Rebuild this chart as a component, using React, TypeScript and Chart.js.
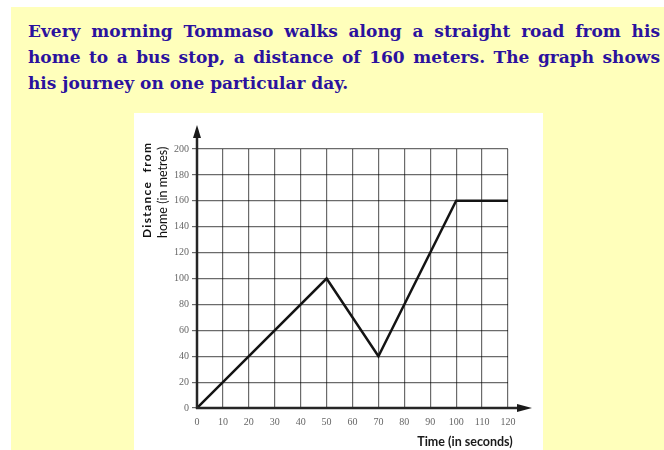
import React, { useEffect, useRef } from "react";
import { Chart, registerables } from "chart.js";

Chart.register(...registerables);

// ---- data ----
const timeSeconds = [0, 50, 70, 100, 120];
const distanceMetres = [0, 100, 40, 160, 160];
const xMin = 0;
const xMax = 120;
const xStep = 10;
const yMin = 0;
const yMax = 200;
const yStep = 20;
const questionLines = [
  "Every morning Tommaso walks along a straight road from his",
  "home to a bus stop, a distance of 160 meters. The graph shows",
  "his journey on one particular day.",
];
const yTitleLines = ["Distance  from", "home (in metres)"];
const xTitle = "Time (in seconds)";

const axesPlugin = {
  id: "axesArrowsTitles",
  afterDraw(chart: any) {
    const { ctx } = chart;
    const { left, right, top, bottom } = chart.chartArea;
    ctx.save();
    // axes
    ctx.strokeStyle = "#262626";
    ctx.fillStyle = "#1a1a1a";
    ctx.lineWidth = 2.5;
    ctx.beginPath();
    ctx.moveTo(left, bottom + 1);
    ctx.lineTo(left, top - 13);
    ctx.moveTo(left - 1, bottom);
    ctx.lineTo(right + 10, bottom);
    ctx.stroke();
    // y arrow
    ctx.beginPath();
    ctx.moveTo(left, top - 24);
    ctx.lineTo(left - 4, top - 11);
    ctx.lineTo(left + 4, top - 11);
    ctx.closePath();
    ctx.fill();
    // x arrow
    ctx.beginPath();
    ctx.moveTo(right + 24, bottom);
    ctx.lineTo(right + 9, bottom - 4);
    ctx.lineTo(right + 9, bottom + 4);
    ctx.closePath();
    ctx.fill();

    // y title (two lines, rotated)
    ctx.fillStyle = "#111";
    ctx.textBaseline = "middle";
    ctx.textAlign = "left";
    ctx.save();
    ctx.translate(13, 125);
    ctx.rotate(-Math.PI / 2);
    ctx.font = "bold 12px Lato";
    (ctx as any).letterSpacing = "1.3px";
    ctx.fillText(yTitleLines[0], 0, 0);
    ctx.restore();
    ctx.save();
    ctx.translate(29, 125);
    ctx.rotate(-Math.PI / 2);
    ctx.font = "12.5px Lato";
    (ctx as any).letterSpacing = "0px";
    ctx.fillText(yTitleLines[1], 0, 0);
    ctx.restore();

    // x title
    ctx.font = "bold 12.5px Lato";
    ctx.fillStyle = "#1a1a1a";
    ctx.textAlign = "center";
    ctx.fillText(xTitle, 331, 329);
    ctx.restore();
  },
};

export default function App() {
  const canvasRef = useRef<HTMLCanvasElement | null>(null);

  useEffect(() => {
    const canvas = canvasRef.current;
    if (!canvas) return;
    const gridColor = "rgba(0,0,0,0.58)";
    const tickFont = { family: "'Liberation Serif', serif", size: 10 };
    const chart = new Chart(canvas, {
      type: "line",
      data: {
        datasets: [
          {
            data: timeSeconds.map((t, i) => ({ x: t, y: distanceMetres[i] })),
            borderColor: "#141414",
            borderWidth: 2.5,
            pointRadius: 0,
            tension: 0,
            fill: false,
          },
        ],
      },
      options: {
        responsive: false,
        maintainAspectRatio: false,
        animation: false,
        layout: { padding: { left: 0, top: 36, right: 35, bottom: 0 } },
        plugins: {
          legend: { display: false },
          tooltip: { enabled: false },
        },
        scales: {
          x: {
            type: "linear",
            min: xMin,
            max: xMax,
            afterFit: (s: any) => {
              s.height = 42;
            },
            ticks: {
              stepSize: xStep,
              font: tickFont,
              color: "#666",
              padding: 8,
              maxRotation: 0,
              autoSkip: false,
            },
            grid: { color: gridColor, lineWidth: 1.2, drawTicks: false },
            border: { display: false },
          },
          y: {
            type: "linear",
            min: yMin,
            max: yMax,
            afterFit: (s: any) => {
              s.width = 63;
            },
            ticks: {
              stepSize: yStep,
              font: tickFont,
              color: "#666",
              padding: 3,
              autoSkip: false,
            },
            grid: { color: gridColor, lineWidth: 1.2, drawTicks: true, tickLength: 5 },
            border: { display: false },
          },
        },
      },
      plugins: [axesPlugin],
    } as any);
    return () => chart.destroy();
  }, []);

  return (
    <div>
      <div
        style={{
          position: "absolute",
          left: 11,
          top: 7,
          width: 653,
          height: 443,
          background: "#FFFFBB",
        }}
      />
      <div
        style={{
          position: "absolute",
          left: 28,
          top: 18,
          width: 632,
          fontFamily: "'DejaVu Serif', serif",
          fontWeight: "bold",
          fontSize: 17,
          lineHeight: "26px",
          color: "#2B129E",
        }}
      >
        {questionLines.map((line, i) => (
          <div
            key={i}
            style={{
              textAlign: "justify",
              textAlignLast: i < questionLines.length - 1 ? "justify" : "left",
              whiteSpace: "nowrap",
            }}
          >
            {line}
          </div>
        ))}
      </div>
      <div
        style={{
          position: "absolute",
          left: 134,
          top: 113,
          width: 409,
          height: 337,
          background: "#FFFFFF",
        }}
      >
        <canvas
          ref={canvasRef}
          width={409}
          height={337}
          style={{ display: "block", width: 409, height: 337 }}
        />
      </div>
    </div>
  );
}
